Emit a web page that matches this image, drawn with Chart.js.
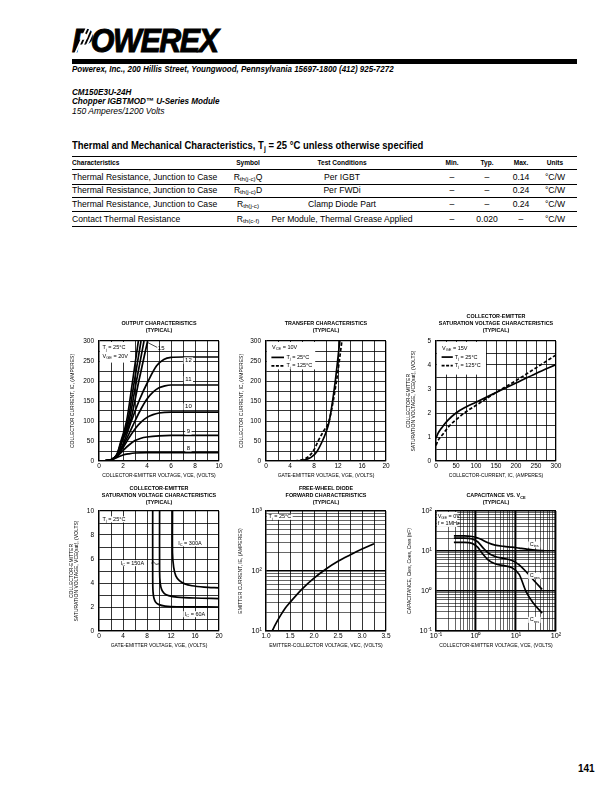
<!DOCTYPE html>
<html>
<head>
<meta charset="utf-8">
<title>CM150E3U-24H</title>
<script src="https://cdn.jsdelivr.net/npm/chart.js@4.4.1/dist/chart.umd.min.js"></script>
<style>
  html, body { margin: 0; padding: 0; background: #fff; }
  body { position: relative; width: 612px; height: 792px; overflow: hidden; font-family: "Liberation Sans", Arial, sans-serif; color: #000; }
  .t { position: absolute; white-space: nowrap; line-height: 1; }
  .bi { font-weight: bold; font-style: italic; }
  .sq { transform-origin: 0 50%; }
  .hd { font-weight: bold; font-size: 8px; }
  .cell { font-size: 8.6px; }
  .mid { transform: translateX(-50%); }
  .hmid { transform: translateX(-50%) scaleX(.82); transform-origin: 50% 50%; }
  .rule { position: absolute; left: 72px; width: 505px; background: #000; }
  .sub { font-size: .72em; position: relative; top: 1.5px; }
  .stripe { position: absolute; top: 28px; width: 1.6px; height: 25px; background: #fff; transform: skewX(-24deg); }
  canvas { position: absolute; }
</style>
</head>
<body>

<!-- header -->
<div class="t bi sq" style="left:72px;top:24px;font-size:33px;letter-spacing:-1.5px;transform:scaleX(.92);-webkit-text-stroke:1px #000">POWEREX</div>
<div class="stripe" style="left:80px"></div>
<div class="stripe" style="left:84px"></div>
<div class="stripe" style="left:88px"></div>
<div class="rule" style="top:59px;height:5px"></div>
<div class="t bi sq" style="left:72px;top:64px;font-size:9.5px;transform:scaleX(.84)">Powerex, Inc., 200 Hillis Street, Youngwood, Pennsylvania 15697-1800 (412) 925-7272</div>
<div class="t bi sq" style="left:72px;top:88px;font-size:9px;transform:scaleX(.9)">CM150E3U-24H</div>
<div class="t bi sq" style="left:72px;top:97px;font-size:9px;transform:scaleX(.9)">Chopper IGBTMOD™ U-Series Module</div>
<div class="t sq" style="left:72px;top:106.5px;font-size:8.5px;font-style:italic">150 Amperes/1200 Volts</div>

<!-- thermal table -->
<div class="t sq" style="left:72px;top:140px;font-size:11px;font-weight:bold;transform:scaleX(.86)">Thermal and Mechanical Characteristics, T<span class="sub">j</span> = 25 °C unless otherwise specified</div>
<div class="rule" style="top:155.5px;height:1.5px"></div>
<div class="t hd sq" style="left:72px;top:159px;transform:scaleX(.82)">Characteristics</div>
<div class="t hd hmid" style="left:248px;top:159px">Symbol</div>
<div class="t hd hmid" style="left:342px;top:159px">Test Conditions</div>
<div class="t hd hmid" style="left:452px;top:159px">Min.</div>
<div class="t hd hmid" style="left:487px;top:159px">Typ.</div>
<div class="t hd hmid" style="left:521px;top:159px">Max.</div>
<div class="t hd hmid" style="left:555px;top:159px">Units</div>
<div class="rule" style="top:168.5px;height:1px"></div>

<div class="t cell" style="left:72px;top:172.5px">Thermal Resistance, Junction to Case</div>
<div class="t cell mid" style="left:248px;top:172.5px">R<span class="sub">th(j-c)</span>Q</div>
<div class="t cell mid" style="left:342px;top:172.5px">Per IGBT</div>
<div class="t cell mid" style="left:452px;top:172.5px">–</div>
<div class="t cell mid" style="left:487px;top:172.5px">–</div>
<div class="t cell mid" style="left:521px;top:172.5px">0.14</div>
<div class="t cell mid" style="left:555px;top:172.5px">°C/W</div>
<div class="rule" style="top:183.5px;height:.8px"></div>

<div class="t cell" style="left:72px;top:185.5px">Thermal Resistance, Junction to Case</div>
<div class="t cell mid" style="left:248px;top:185.5px">R<span class="sub">th(j-c)</span>D</div>
<div class="t cell mid" style="left:342px;top:185.5px">Per FWDi</div>
<div class="t cell mid" style="left:452px;top:185.5px">–</div>
<div class="t cell mid" style="left:487px;top:185.5px">–</div>
<div class="t cell mid" style="left:521px;top:185.5px">0.24</div>
<div class="t cell mid" style="left:555px;top:185.5px">°C/W</div>
<div class="rule" style="top:197px;height:.8px"></div>

<div class="t cell" style="left:72px;top:199.5px">Thermal Resistance, Junction to Case</div>
<div class="t cell mid" style="left:248px;top:199.5px">R<span class="sub">th(j-c)</span></div>
<div class="t cell mid" style="left:342px;top:199.5px">Clamp Diode Part</div>
<div class="t cell mid" style="left:452px;top:199.5px">–</div>
<div class="t cell mid" style="left:487px;top:199.5px">–</div>
<div class="t cell mid" style="left:521px;top:199.5px">0.24</div>
<div class="t cell mid" style="left:555px;top:199.5px">°C/W</div>
<div class="rule" style="top:211px;height:.8px"></div>

<div class="t cell" style="left:72px;top:214.5px">Contact Thermal Resistance</div>
<div class="t cell mid" style="left:248px;top:214.5px">R<span class="sub">th(c-f)</span></div>
<div class="t cell mid" style="left:342px;top:214.5px">Per Module, Thermal Grease Applied</div>
<div class="t cell mid" style="left:452px;top:214.5px">–</div>
<div class="t cell mid" style="left:487px;top:214.5px">0.020</div>
<div class="t cell mid" style="left:521px;top:214.5px">–</div>
<div class="t cell mid" style="left:555px;top:214.5px">°C/W</div>
<div class="rule" style="top:225.5px;height:1.2px"></div>

<canvas id="outChart" width="174" height="172" style="left:59px;top:313px"></canvas>
<canvas id="transferChart" width="174" height="172" style="left:226px;top:313px"></canvas>
<canvas id="satChart" width="174" height="172" style="left:396px;top:313px"></canvas>
<canvas id="vgeChart" width="174" height="172" style="left:59px;top:483px"></canvas>
<canvas id="diodeChart" width="174" height="172" style="left:226px;top:483px"></canvas>
<canvas id="capChart" width="174" height="172" style="left:396px;top:483px"></canvas>

<div class="t" style="left:578px;top:764px;font-size:10px;font-weight:bold">141</div>

<script>
const F = '"Liberation Sans", Arial, sans-serif';

// output characteristics, Tj = 25C : VCE (V) -> IC (A)
const outVce20 = [0, 0.5, 1.0, 1.5, 1.83, 2.3, 2.8, 3.28];
const outIc20 = [0, 0.5, 3, 17, 50, 100, 200, 300];
const outVce18 = [0, 0.5, 1.0, 1.5, 1.87, 2.4, 2.95, 3.5];
const outIc18 = [0, 0.5, 3, 16, 50, 100, 200, 300];
const outVce17 = [0, 0.5, 1.0, 1.5, 1.9, 2.5, 3.12, 3.75];
const outIc17 = [0, 0.5, 3, 15, 50, 100, 200, 300];
const outVce15 = [0, 0.5, 1.0, 1.5, 1.95, 2.62, 3.32, 4.05];
const outIc15 = [0, 0.5, 3, 15, 50, 100, 200, 300];
const outVce12 = [0, 0.5, 1.0, 1.5, 2.0, 2.7, 3.4, 4.1, 4.8, 5.4, 6.0, 7.0, 10];
const outIc12 = [0, 0.5, 3, 15, 42, 100, 155, 200, 238, 254, 259, 260, 260];
const outVce11 = [0, 0.5, 1.0, 1.5, 2.0, 2.5, 3.0, 3.5, 4.0, 4.5, 5.0, 5.5, 6.0, 7.0, 10];
const outIc11 = [0, 0.5, 3, 14, 38, 68, 100, 130, 155, 172, 183, 188, 190, 190, 190];
const outVce10 = [0, 0.5, 1.0, 1.5, 2.0, 2.5, 3.0, 3.5, 4.0, 4.5, 5.0, 6.0, 7.0, 10];
const outIc10 = [0, 0.5, 3, 13, 33, 58, 80, 97, 109, 116, 120, 122, 122, 122];
const outVce9 = [0, 0.5, 1.0, 1.5, 2.0, 2.5, 3.0, 3.5, 4.0, 5.0, 6.0, 10];
const outIc9 = [0, 0.5, 3, 11, 26, 40, 51, 57, 60, 63, 64, 64];
const outVce8 = [0, 0.5, 1.0, 1.5, 2.0, 2.5, 3.0, 4.0, 5.0, 10];
const outIc8 = [0, 0.5, 2.5, 9, 15, 18, 20, 21, 21, 21];

// transfer characteristics, VCE = 10V : VGE (V) -> IC (A)
const trVge25 = [5.4, 6.5, 7.5, 8.5, 9.4, 10.0, 10.55, 11.55, 12.3];
const trIc25 = [0, 3, 9, 24, 50, 72, 100, 200, 300];
const trVge125 = [4.8, 6.0, 7.0, 8.0, 8.7, 9.6, 10.5, 11.75, 12.65];
const trIc125 = [0, 3, 10, 28, 50, 75, 100, 200, 300];

// saturation voltage vs collector current, VGE = 15V
const satIc = [0, 5, 15, 30, 50, 75, 100, 150, 200, 250, 300];
const satV25 = [0.95, 1.15, 1.4, 1.7, 2.0, 2.25, 2.45, 2.85, 3.25, 3.65, 4.02];
const satV125 = [0.65, 0.85, 1.07, 1.4, 1.72, 2.05, 2.32, 2.85, 3.35, 3.88, 4.42];

// saturation voltage vs gate voltage, Tj = 25C
const vge60 = [8.95, 8.95, 9.0, 9.15, 9.45, 10.0, 11.0, 13.0, 20];
const vce60 = [10, 4.5, 3.3, 2.75, 2.4, 2.2, 2.08, 2.02, 2.0];
const vge150 = [10.1, 10.1, 10.2, 10.45, 10.9, 11.6, 13.0, 16.0, 20];
const vce150 = [10, 5.0, 4.0, 3.45, 3.12, 2.95, 2.83, 2.75, 2.7];
const vge300 = [12.25, 12.25, 12.45, 12.8, 13.4, 14.2, 15.5, 17.5, 20];
const vce300 = [10, 6.5, 5.3, 4.6, 4.2, 3.95, 3.77, 3.66, 3.6];

// free-wheel diode forward characteristics
const fwdVec = [1.13, 1.2, 1.3, 1.4, 1.5, 1.75, 2.0, 2.25, 2.5, 2.75, 3.0, 3.25];
const fwdIe = [10, 13, 18, 24, 30, 50, 76, 108, 145, 185, 232, 285];

// capacitance vs VCE (nF)
const ciesV = [0.28, 0.5, 0.8, 1.2, 2, 3, 5, 8, 12, 20, 30, 50];
const cies = [24, 24, 23, 20.5, 16, 14, 13, 12.5, 11.8, 11, 10.5, 10.2];
const coesV = [0.28, 0.5, 0.8, 1.1, 1.5, 2, 3, 5, 8, 12, 20, 30, 45];
const coes = [21, 21, 20, 17, 12, 9, 7.3, 6.5, 5.8, 4.5, 2.7, 1.7, 1.1];
const cresV = [0.28, 0.5, 0.8, 1.1, 1.4, 2, 3, 5, 8, 12, 18, 27, 45];
const cres = [16.5, 16.5, 15.5, 12.5, 9, 6, 4.8, 4.3, 3.8, 2.6, 0.95, 0.5, 0.28];

// labelled tick values
const outXLabels = [0, 2, 4, 6, 8, 10];
const ampLabels = [0, 50, 100, 150, 200, 250, 300];
const vgeLabels = [0, 4, 8, 12, 16, 20];
const satYLabels = [0, 1, 2, 3, 4, 5];
const vceLabels = [0, 2, 4, 6, 8, 10];
const fwdXLabels = [1.0, 1.5, 2.0, 2.5, 3.0, 3.5];
const decades = { '-1': '10⁻¹', '0': '10⁰', '1': '10¹', '2': '10²', '3': '10³' };

function zip(xs, ys) { return xs.map((x, i) => ({ x: x, y: ys[i] })); }

function curve(xs, ys, dash, mode) {
  return {
    data: zip(xs, ys), borderColor: '#000', backgroundColor: '#000', borderWidth: 1.7,
    borderDash: dash || [], pointRadius: 0, fill: false,
    cubicInterpolationMode: mode === 'bez' ? 'default' : 'monotone', tension: mode === 'bez' ? 0.3 : 0
  };
}

function isDecade(v) { const e = Math.log10(v); return Math.abs(e - Math.round(e)) < 1e-6; }

function logGrid(lo, hi) {
  const out = [];
  for (let e = Math.round(Math.log10(lo)); e < Math.round(Math.log10(hi)); e++) {
    for (let m = 1; m < 10; m++) out.push(+(m * Math.pow(10, e)).toPrecision(3));
  }
  out.push(hi);
  return out;
}

function axisTitle(text, pad, left) {
  return {
    display: true, text: text, color: '#000',
    font: { family: F, size: 5, lineHeight: left ? '5.6px' : '6px' },
    padding: left ? { top: pad, bottom: 0 } : { top: 0, bottom: pad }
  };
}

function linAxis(pos, min, max, step, labels, title, pad, fmt) {
  return {
    type: 'linear', position: pos, min: min, max: max,
    ticks: {
      stepSize: step, autoSkip: false, maxRotation: 0, color: '#000',
      padding: pos === 'left' ? 5 : 1.5,
      font: { family: F, size: 6.5 },
      callback: v => labels.some(l => Math.abs(l - v) < 1e-6) ? (fmt ? fmt(v) : v) : ''
    },
    grid: { color: '#000', drawTicks: false, lineWidth: c => (c.tick.value === min || c.tick.value === max) ? 1.3 : 0.8 },
    border: { color: '#000', width: 1.3 },
    title: axisTitle(title, pad, pos === 'left'),
    afterFit: s => { if (pos === 'left') s.width = 40; else s.height = 24; }
  };
}

function logAxis(pos, min, max, title, pad) {
  return {
    type: 'logarithmic', position: pos, min: min, max: max,
    afterBuildTicks: s => { s.ticks = logGrid(min, max).map(v => ({ value: v })); },
    ticks: {
      autoSkip: false, maxRotation: 0, color: '#000',
      padding: pos === 'left' ? 4 : 1,
      font: { family: F, size: 7.2 },
      callback: v => isDecade(v) ? decades[Math.round(Math.log10(v))] : ''
    },
    grid: { color: '#000', drawTicks: false, lineWidth: c => isDecade(c.tick.value) ? 1.4 : 0.6 },
    border: { color: '#000', width: 1.3 },
    title: axisTitle(title, pad, pos === 'left'),
    afterFit: s => { if (pos === 'left') s.width = 40; else s.height = 24; }
  };
}

// text with {subscript} parts
function rich(ctx, str, px, py, size, align, opt) {
  opt = opt || {};
  const wt = opt.bold ? 'bold ' : '';
  const big = wt + size + 'px ' + F;
  const small = wt + (size * 0.72).toFixed(2) + 'px ' + F;
  let total = 0;
  const segs = str.split(/(\{[^}]*\})/).filter(s => s.length).map(p => {
    const sub = p[0] === '{';
    const txt = sub ? p.slice(1, -1) : p;
    ctx.font = sub ? small : big;
    const w = ctx.measureText(txt).width;
    total += w;
    return { txt: txt, sub: sub, w: w };
  });
  let x = align === 'center' ? px - total / 2 : align === 'right' ? px - total : px;
  if (opt.bg) { ctx.fillStyle = '#fff'; ctx.fillRect(x - 1.5, py - size * 0.55, total + 3, size * 1.1); }
  ctx.fillStyle = '#000';
  ctx.textAlign = 'left';
  ctx.textBaseline = 'middle';
  segs.forEach(s => {
    ctx.font = s.sub ? small : big;
    ctx.fillText(s.txt, x, s.sub ? py + size * 0.3 : py);
    x += s.w;
  });
}

// legend boxes, labels and chart headings
function notes(spec) {
  return {
    id: 'notes',
    beforeDatasetsDraw(chart) {
      const { ctx, chartArea: a, scales: { x, y } } = chart;
      ctx.save();
      ctx.fillStyle = '#fff';
      (spec.boxes || []).forEach(b => {
        const l = Math.max(x.getPixelForValue(b[0]), a.left + 1);
        const t = Math.max(y.getPixelForValue(b[2]), a.top + 1);
        ctx.fillRect(l, t, x.getPixelForValue(b[1]) - l, y.getPixelForValue(b[3]) - t);
      });
      ctx.restore();
    },
    afterDatasetsDraw(chart) {
      const { ctx, chartArea: a, scales: { x, y } } = chart;
      ctx.save();
      ctx.strokeStyle = '#000';
      (spec.strokes || []).forEach(s => {
        ctx.beginPath();
        ctx.setLineDash(s.dash || []);
        ctx.lineWidth = s.w || 1.7;
        s.pts.forEach((p, i) => {
          const px = x.getPixelForValue(p[0]), py = y.getPixelForValue(p[1]);
          if (i) ctx.lineTo(px, py); else ctx.moveTo(px, py);
        });
        ctx.stroke();
      });
      ctx.setLineDash([]);
      (spec.labels || []).forEach(l => rich(ctx, l.t, x.getPixelForValue(l.x), y.getPixelForValue(l.y), l.size || 5.5, l.align || 'left', { bg: l.bg }));
      const cx = (a.left + a.right) / 2;
      spec.title.forEach((t, i) => rich(ctx, t, cx, spec.titleY + i * 7, 5.4, 'center', { bold: true }));
      ctx.restore();
    }
  };
}

function make(id, datasets, xAxis, yAxis, spec) {
  return new Chart(document.getElementById(id), {
    type: 'line',
    data: { datasets: datasets },
    options: {
      responsive: false, animation: false, devicePixelRatio: 1,
      layout: { padding: { top: 28, right: 14, left: 0, bottom: 0 } },
      scales: { x: xAxis, y: yAxis },
      plugins: { legend: { display: false }, tooltip: { enabled: false } }
    },
    plugins: [notes(spec)]
  });
}

make('outChart', [
  curve(outVce20, outIc20), curve(outVce18, outIc18), curve(outVce17, outIc17), curve(outVce15, outIc15),
  curve(outVce12, outIc12), curve(outVce11, outIc11), curve(outVce10, outIc10), curve(outVce9, outIc9), curve(outVce8, outIc8)
],
  linAxis('bottom', 0, 10, 1, outXLabels, 'COLLECTOR-EMITTER VOLTAGE, VCE, (VOLTS)', 6),
  linAxis('left', 0, 300, 25, ampLabels, 'COLLECTOR CURRENT, IC, (AMPERES)', 11),
  {
    title: ['OUTPUT CHARACTERISTICS', '(TYPICAL)'], titleY: 11,
    boxes: [[0, 2.6, 300, 246]],
    strokes: [{ pts: [[4.0, 297], [4.85, 284]], w: 0.7 }],
    labels: [
      { t: 'T{j} = 25°C', x: 0.3, y: 283 }, { t: 'V{GE} = 20V', x: 0.3, y: 261 },
      { t: '15', x: 4.9, y: 282, size: 6 },
      { t: '12', x: 7.45, y: 251, size: 6, align: 'center', bg: true },
      { t: '11', x: 7.45, y: 204, size: 6, align: 'center', bg: true },
      { t: '10', x: 7.45, y: 136, size: 6, align: 'center', bg: true },
      { t: '9', x: 7.45, y: 74, size: 6, align: 'center', bg: true },
      { t: '8', x: 7.45, y: 32, size: 6, align: 'center', bg: true }
    ]
  });

make('transferChart', [curve(trVge25, trIc25), curve(trVge125, trIc125, [3.5, 2])],
  linAxis('bottom', 0, 20, 2, vgeLabels, 'GATE-EMITTER VOLTAGE, VGE, (VOLTS)', 6),
  linAxis('left', 0, 300, 25, ampLabels, 'COLLECTOR CURRENT, IC, (AMPERES)', 13),
  {
    title: ['TRANSFER CHARACTERISTICS', '(TYPICAL)'], titleY: 11,
    boxes: [[0, 8.2, 300, 229]],
    strokes: [{ pts: [[0.9, 259], [3.0, 259]] }, { pts: [[0.9, 238], [3.0, 238]], dash: [3, 1.5] }],
    labels: [
      { t: 'V{CE} = 10V', x: 1.0, y: 284 },
      { t: 'T{j} = 25°C', x: 3.4, y: 259 },
      { t: 'T{j} = 125°C', x: 3.4, y: 238 }
    ]
  });

make('satChart', [curve(satIc, satV25), curve(satIc, satV125, [3.5, 2])],
  linAxis('bottom', 0, 300, 25, ampLabels, 'COLLECTOR-CURRENT, IC, (AMPERES)', 6),
  linAxis('left', 0, 5, 0.5, satYLabels, ['COLLECTOR-EMITTER', 'SATURATION VOLTAGE, VCE(sat), (VOLTS)'], 9.5),
  {
    title: ['COLLECTOR-EMITTER', 'SATURATION VOLTAGE CHARACTERISTICS', '(TYPICAL)'], titleY: 4,
    boxes: [[0, 125, 5, 3.6]],
    strokes: [{ pts: [[14, 4.33], [42, 4.33]] }, { pts: [[14, 3.97], [42, 3.97]], dash: [3, 1.5] }],
    labels: [
      { t: 'V{GE} = 15V', x: 15, y: 4.7 },
      { t: 'T{j} = 25°C', x: 47, y: 4.33 },
      { t: 'T{j} = 125°C', x: 47, y: 3.97 }
    ]
  });

make('vgeChart', [curve(vge60, vce60, null, 'bez'), curve(vge150, vce150, null, 'bez'), curve(vge300, vce300, null, 'bez')],
  linAxis('bottom', 0, 20, 2, vgeLabels, 'GATE-EMITTER VOLTAGE, VGE, (VOLTS)', 6),
  linAxis('left', 0, 10, 1, vceLabels, ['COLLECTOR-EMITTER', 'SATURATION VOLTAGE, VCE(sat), (VOLTS)'], 9.5),
  {
    title: ['COLLECTOR-EMITTER', 'SATURATION VOLTAGE CHARACTERISTICS', '(TYPICAL)'], titleY: 6,
    strokes: [{ pts: [[8.7, 5.65], [9.1, 5.75], [9.5, 5.55], [10.0, 5.6]], w: 0.7 }],
    labels: [
      { t: 'T{j} = 25°C', x: 0.6, y: 9.3, bg: true },
      { t: 'I{C} = 300A', x: 13.2, y: 7.3, bg: true },
      { t: 'I{C} = 150A', x: 3.6, y: 5.65, bg: true },
      { t: 'I{C} = 60A', x: 14.3, y: 1.4, bg: true }
    ]
  });

make('diodeChart', [curve(fwdVec, fwdIe)],
  linAxis('bottom', 1, 3.5, 0.25, fwdXLabels, 'EMITTER-COLLECTOR VOLTAGE, VEC, (VOLTS)', 6, v => v.toFixed(1)),
  logAxis('left', 10, 1000, 'EMITTER CURRENT, IE, (AMPERES)', 12),
  {
    title: ['FREE-WHEEL DIODE', 'FORWARD CHARACTERISTICS', '(TYPICAL)'], titleY: 6,
    labels: [{ t: 'T{j} = 25°C', x: 1.05, y: 800, bg: true }]
  });

make('capChart', [curve(ciesV, cies), curve(coesV, coes), curve(cresV, cres)],
  logAxis('bottom', 0.1, 100, 'COLLECTOR-EMITTER VOLTAGE, VCE, (VOLTS)', 6),
  logAxis('left', 0.1, 100, 'CAPACITANCE, Cies, Coes, Cres (nF)', 11),
  {
    title: ['CAPACITANCE VS. V{CE}', '(TYPICAL)'], titleY: 13,
    boxes: [[0.1, 0.34, 100, 40]],
    labels: [
      { t: 'V{GE} = 0V', x: 0.11, y: 72 },
      { t: 'f = 1MHz', x: 0.11, y: 49 },
      { t: 'C{ies}', x: 22, y: 14.5, bg: true },
      { t: 'C{oes}', x: 22, y: 2.4, bg: true },
      { t: 'C{res}', x: 22, y: 0.19, bg: true }
    ]
  });
</script>
</body>
</html>
